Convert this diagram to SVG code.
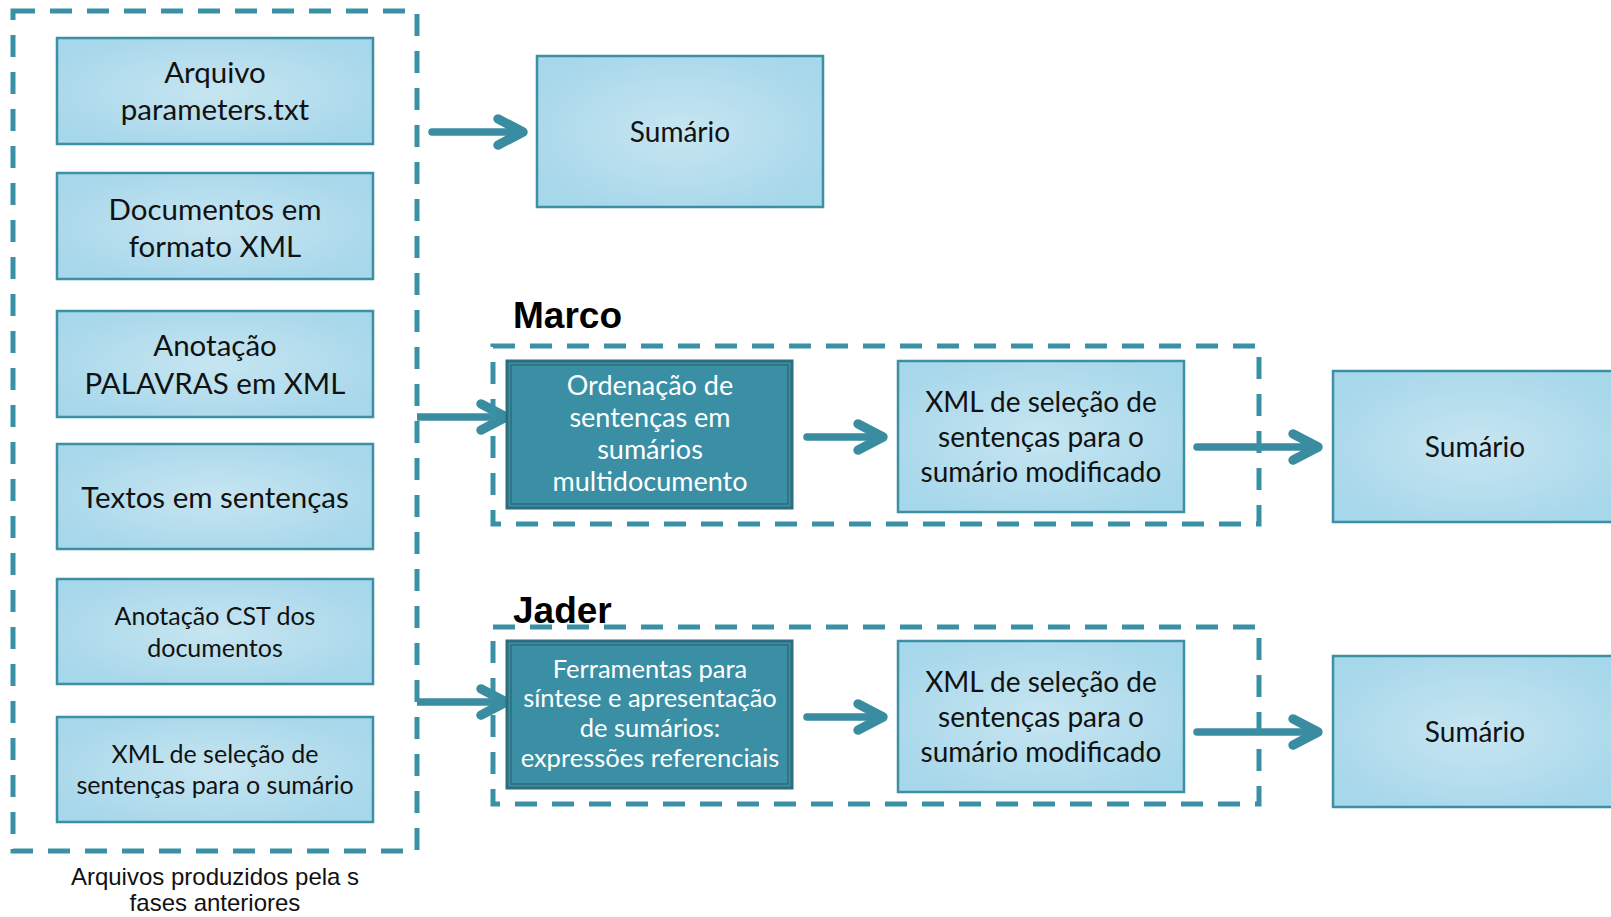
<svg xmlns="http://www.w3.org/2000/svg" width="1611" height="917" viewBox="0 0 1611 917">
<defs>
<radialGradient id="lg" cx="0.5" cy="0.5" r="0.6">
<stop offset="0" stop-color="#c7e5f1"/>
<stop offset="1" stop-color="#a6d7ea"/>
</radialGradient>
<marker id="ah" markerUnits="userSpaceOnUse" markerWidth="50" markerHeight="50" viewBox="-30 -20 40 40" refX="0" refY="0" orient="auto" overflow="visible">
<path d="M-20,-10.5 L0,0 L-20,10.5" fill="none" stroke="#3a8ca1" stroke-width="7.5" stroke-linecap="round" stroke-linejoin="round"/>
</marker>
</defs>
<style>
.lb{fill:url(#lg);stroke:#3d8fa4;stroke-width:2.5}
.db{fill:#3a8fa5;stroke:#2c6d7e;stroke-width:3}
.dbi{fill:none;stroke:#2c6d7e;stroke-width:1.5}
.dash{fill:none;stroke:#3a91a6;stroke-width:5;stroke-dasharray:22 15}
.t{font-family:Lato,"Open Sans",sans-serif;fill:#111;text-anchor:middle}
.tw{font-family:Lato,"Open Sans",sans-serif;fill:#fff;text-anchor:middle}
.lbl{font-family:"Liberation Sans",Arial,sans-serif;font-weight:bold;fill:#000}
.cap{font-family:"Liberation Sans",Arial,sans-serif;fill:#111;text-anchor:middle;font-size:24px}
.arr{fill:none;stroke:#3a8ca1;stroke-width:7.5;stroke-linecap:round;marker-end:url(#ah)}
</style>

<g id="connectors">
<path class="arr" d="M432,132 L523,132"/>
<path class="arr" d="M417,417 L506,417" style="stroke-linecap:butt"/>
<path class="arr" d="M417,702 L506,702" style="stroke-linecap:butt"/>
<path class="arr" d="M807,437 L883,437"/>
<path class="arr" d="M1197,447 L1318,447"/>
<path class="arr" d="M807,717 L883,717"/>
<path class="arr" d="M1197,732 L1318,732"/>
</g>

<g id="group-inputs">
<rect class="dash" x="13" y="11" width="404" height="840"/>
<text class="cap" x="215" y="885">Arquivos produzidos pela s</text>
<text class="cap" x="215" y="911">fases anteriores</text>
</g>

<g id="group-marco">
<rect class="dash" x="493" y="346" width="766" height="178"/>
<text class="lbl" x="513" y="328" font-size="37">Marco</text>
</g>

<g id="group-jader">
<rect class="dash" x="493" y="627" width="766" height="177"/>
<text class="lbl" x="513" y="623" font-size="37">Jader</text>
</g>

<g id="n-arquivo">
<rect class="lb" x="57" y="38" width="316" height="106"/>
<text class="t" x="215" font-size="29.5"><tspan x="215" y="83">Arquivo</tspan><tspan x="215" y="120">parameters.txt</tspan></text>
</g>
<g id="n-documentos">
<rect class="lb" x="57" y="173" width="316" height="106"/>
<text class="t" x="215" font-size="29.5"><tspan x="215" y="220">Documentos em</tspan><tspan x="215" y="257">formato XML</tspan></text>
</g>
<g id="n-palavras">
<rect class="lb" x="57" y="311" width="316" height="106"/>
<text class="t" x="215" font-size="29.5"><tspan x="215" y="356">Anotação</tspan><tspan x="215" y="394">PALAVRAS em XML</tspan></text>
</g>
<g id="n-textos">
<rect class="lb" x="57" y="444" width="316" height="105"/>
<text class="t" x="215" y="508" font-size="29.5">Textos em sentenças</text>
</g>
<g id="n-cst">
<rect class="lb" x="57" y="579" width="316" height="105"/>
<text class="t" x="215" font-size="25"><tspan x="215" y="625">Anotação CST dos</tspan><tspan x="215" y="657">documentos</tspan></text>
</g>
<g id="n-xmlsel">
<rect class="lb" x="57" y="717" width="316" height="105"/>
<text class="t" x="215" font-size="25"><tspan x="215" y="763">XML de seleção de</tspan><tspan x="215" y="794">sentenças para o sumário</tspan></text>
</g>

<g id="n-sumario-top">
<rect class="lb" x="537" y="56" width="286" height="151"/>
<text class="t" x="680" y="142" font-size="28">Sumário</text>
</g>

<g id="n-ordenacao">
<rect class="db" x="507" y="361" width="285" height="147"/>
<rect class="dbi" x="511" y="365" width="277" height="139"/>
<text class="tw" font-size="27"><tspan x="650" y="395">Ordenação de</tspan><tspan x="650" y="427">sentenças em</tspan><tspan x="650" y="459">sumários</tspan><tspan x="650" y="491">multidocumento</tspan></text>
</g>
<g id="n-xml-marco">
<rect class="lb" x="898" y="361" width="286" height="151"/>
<text class="t" font-size="28"><tspan x="1041" y="412">XML de seleção de</tspan><tspan x="1041" y="447">sentenças para o</tspan><tspan x="1041" y="482">sumário modificado</tspan></text>
</g>
<g id="n-sumario-marco">
<rect class="lb" x="1333" y="371" width="286" height="151"/>
<text class="t" x="1475" y="457" font-size="28">Sumário</text>
</g>

<g id="n-ferramentas">
<rect class="db" x="507" y="641" width="285" height="147"/>
<rect class="dbi" x="511" y="645" width="277" height="139"/>
<text class="tw" font-size="25.5"><tspan x="650" y="678">Ferramentas para</tspan><tspan x="650" y="707">síntese e apresentação</tspan><tspan x="650" y="737">de sumários:</tspan><tspan x="650" y="767">expressões referenciais</tspan></text>
</g>
<g id="n-xml-jader">
<rect class="lb" x="898" y="641" width="286" height="151"/>
<text class="t" font-size="28"><tspan x="1041" y="692">XML de seleção de</tspan><tspan x="1041" y="727">sentenças para o</tspan><tspan x="1041" y="762">sumário modificado</tspan></text>
</g>
<g id="n-sumario-jader">
<rect class="lb" x="1333" y="656" width="286" height="151"/>
<text class="t" x="1475" y="742" font-size="28">Sumário</text>
</g>
</svg>
